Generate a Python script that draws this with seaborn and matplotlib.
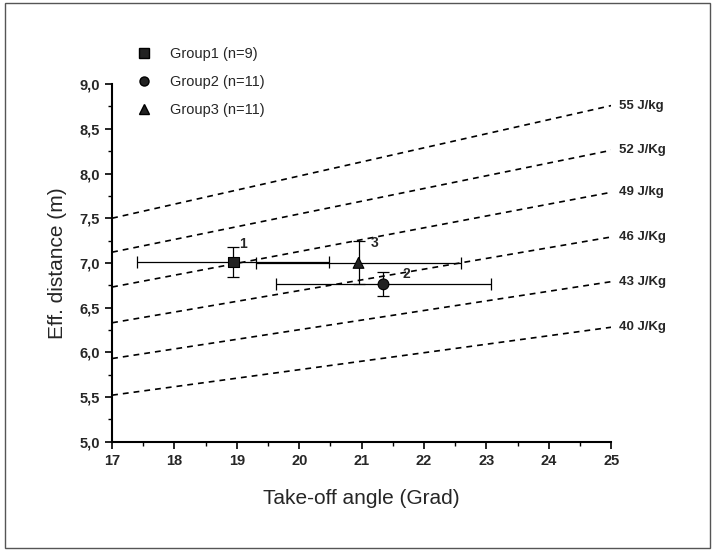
import matplotlib
matplotlib.use("Agg")
import matplotlib.pyplot as plt
import seaborn as sns
import pandas as pd
from matplotlib.lines import Line2D
from matplotlib.patches import Rectangle

# ---- data ----
groups = ["Group1 (n=9)", "Group2 (n=11)", "Group3 (n=11)"]
group_ids = ["1", "2", "3"]
angle = [18.94, 21.35, 20.95]
angle_err = [1.54, 1.73, 1.65]
distance = [7.01, 6.76, 7.00]
distance_err = [0.17, 0.135, 0.24]

energy_labels = ["55 J/kg", "52 J/Kg", "49 J/kg", "46 J/Kg", "43 J/Kg", "40 J/Kg"]
energy_x = [17, 25]
energy_start = [7.50, 7.12, 6.73, 6.33, 5.93, 5.52]
energy_end = [8.76, 8.26, 7.79, 7.29, 6.79, 6.28]

x_ticks = [17, 18, 19, 20, 21, 22, 23, 24, 25]
y_ticks = [5.0, 5.5, 6.0, 6.5, 7.0, 7.5, 8.0, 8.5, 9.0]

sns.set_theme(style="ticks")
plt.rcParams["font.family"] = ["Liberation Sans", "DejaVu Sans"]

fig = plt.figure(figsize=(7.14, 5.5), dpi=100)
ax = fig.add_axes([0.157, 0.197, 0.699, 0.650])

# energy iso-lines
rows = []
for lab, s, e in zip(energy_labels, energy_start, energy_end):
    rows.append({"lab": lab, "x": energy_x[0], "y": s})
    rows.append({"lab": lab, "x": energy_x[1], "y": e})
lines_df = pd.DataFrame(rows)
sns.lineplot(data=lines_df, x="x", y="y", units="lab", estimator=None,
             color="black", lw=1.2, dashes=False, ax=ax, legend=False)
for l in ax.get_lines():
    l.set_linestyle((0, (3.5, 3)))
for lab, e in zip(energy_labels, energy_end):
    ax.text(25.12, e, lab, fontsize=9.5, fontweight="bold", va="center",
            ha="left", clip_on=False)

# error bars
for i in range(3):
    ax.errorbar(angle[i], distance[i], xerr=angle_err[i], yerr=distance_err[i],
                fmt="none", ecolor="black", elinewidth=0.9, capsize=4,
                capthick=0.9, zorder=3)

pts = pd.DataFrame({"angle": angle, "distance": distance, "group": groups})
markers = {groups[0]: "s", groups[1]: "o", groups[2]: "^"}
sns.scatterplot(data=pts, x="angle", y="distance", style="group",
                markers=markers, color="#222222", s=60, edgecolor="black",
                linewidth=0.8, ax=ax, legend=False, zorder=4)

label_off = [(0.1, 0.2), (0.3, 0.12), (0.2, 0.22)]
for i in range(3):
    ax.text(angle[i] + label_off[i][0], distance[i] + label_off[i][1],
            group_ids[i], fontsize=10, fontweight="bold", ha="left", va="center")

ax.set_xlim(17, 25)
ax.set_ylim(5, 9)
ax.set_xticks(x_ticks)
ax.set_xticklabels([str(t) for t in x_ticks], fontsize=10.5, fontweight="bold")
ax.set_yticks(y_ticks)
ax.set_yticklabels([f"{t:.1f}".replace(".", ",") for t in y_ticks],
                   fontsize=10.5, fontweight="bold")
ax.set_xticks([17.5 + i for i in range(8)], minor=True)
ax.set_yticks([5.25 + 0.5 * i for i in range(8)], minor=True)
ax.tick_params(axis="both", which="major", direction="out", length=5,
               width=1.2, color="black", pad=4)
ax.tick_params(axis="both", which="minor", direction="out", length=3,
               width=1.0, color="black")
sns.despine(ax=ax)
for sp in ["left", "bottom"]:
    ax.spines[sp].set_linewidth(1.5)
    ax.spines[sp].set_color("black")

ax.set_xlabel("Take-off angle (Grad)", fontsize=15, labelpad=15)
ax.set_ylabel("Eff. distance (m)", fontsize=15, labelpad=9)

handles = [Line2D([], [], marker=markers[g], color="#222222", ls="none",
                  markersize=6.5, markeredgecolor="black") for g in groups]
fig.legend(handles, groups, loc="upper left", bbox_to_anchor=(0.173, 0.938),
           frameon=False, fontsize=10.5, handletextpad=1.3, labelspacing=0.95,
           handlelength=1.0)

fig.patches.append(Rectangle((0.007, 0.004), 0.988, 0.99, transform=fig.transFigure,
                             fill=False, edgecolor="#555555", lw=1.0))

fig.savefig("out.png", dpi=100)
